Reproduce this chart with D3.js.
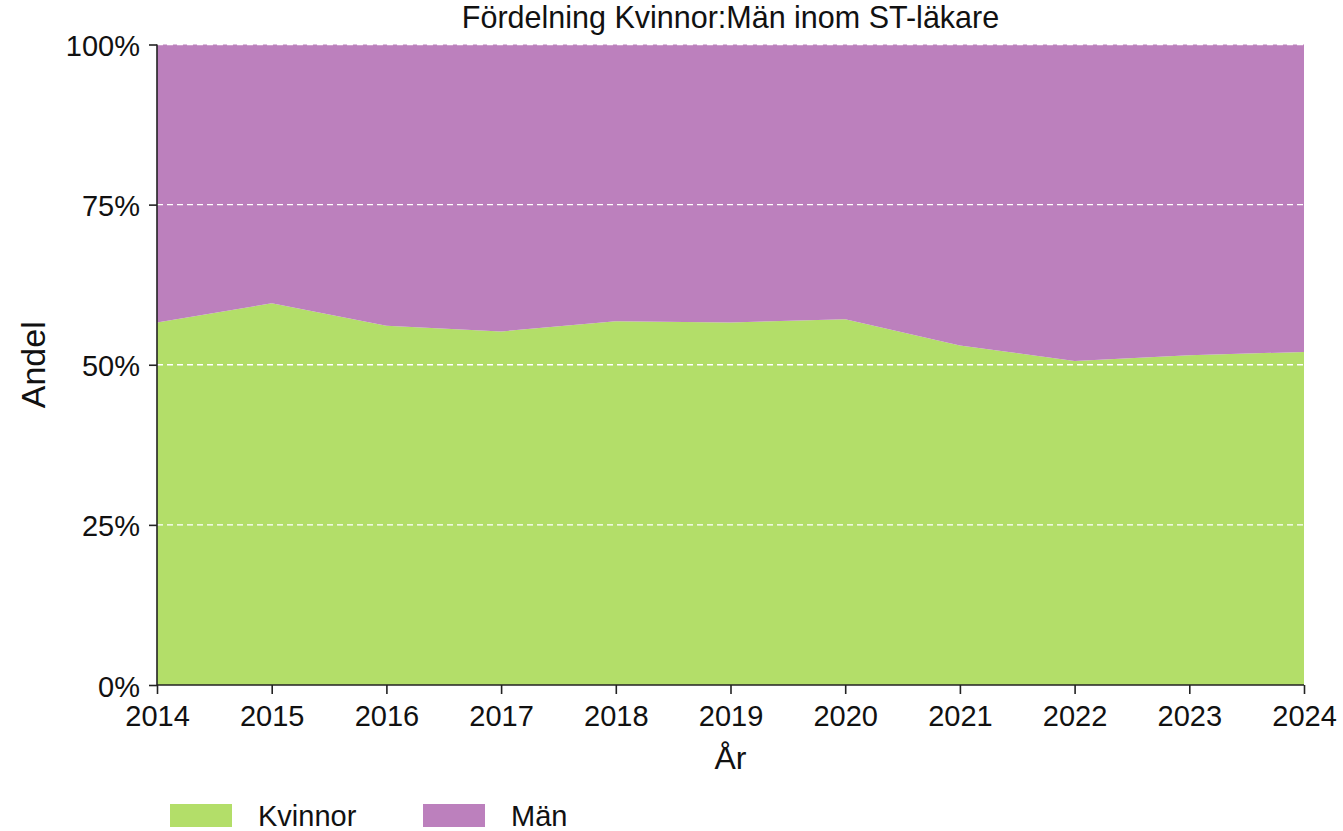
<!DOCTYPE html>
<html><head><meta charset="utf-8">
<script src="https://cdn.jsdelivr.net/npm/d3@7"></script>
<style>body{margin:0;background:#fff;font-family:"Liberation Sans",Arial,Helvetica,sans-serif;}</style>
</head><body>
<svg id="c" width="1343" height="831"></svg>
<script>
const years = [2014,2015,2016,2017,2018,2019,2020,2021,2022,2023,2024];
const kvinnor = [0.566,0.596,0.561,0.552,0.568,0.566,0.571,0.530,0.506,0.515,0.520];
const man = kvinnor.map(v => 1 - v);
const seriesNames = ["Kvinnor","Män"];
const seriesColors = ["#b3de69","#bc80bd"];
const yTicks = [0,0.25,0.5,0.75,1];
const title = "Fördelning Kvinnor:Män inom ST-läkare";

const svg = d3.select("#c");
const m = {l:157, r:1304, t:44.5, b:685};
const x = d3.scaleLinear().domain([2014,2024]).range([m.l,m.r]);
const y = d3.scaleLinear().domain([0,1]).range([m.b,m.t]);

const data = years.map((yr,i)=>({year:yr, Kvinnor:kvinnor[i], "Män":man[i]}));
const stack = d3.stack().keys(seriesNames)(data);
const area = d3.area().x(d=>x(d.data.year)).y0(d=>y(d[0])).y1(d=>y(d[1]));
svg.append("g").selectAll("path").data(stack).join("path")
  .attr("d", area).attr("fill",(d,i)=>seriesColors[i]);

// grid
svg.append("g").selectAll("line").data(yTicks.filter(t=>t>0)).join("line")
  .attr("x1",m.l).attr("x2",m.r).attr("y1",d=>y(d)).attr("y2",d=>y(d))
  .attr("stroke","#fff").attr("stroke-width",1.3).attr("stroke-dasharray","6,4");

const yAxis = d3.axisLeft(y).tickValues(yTicks).tickFormat(d=>Math.round(d*100)+"%").tickSize(8).tickPadding(9);
const gy = svg.append("g").attr("transform",`translate(${m.l},0)`).call(yAxis);
const xAxis = d3.axisBottom(x).tickValues(years).tickFormat(d3.format("d")).tickSize(9).tickPadding(11);
const gx = svg.append("g").attr("transform",`translate(0,${m.b})`).call(xAxis);
[gy,gx].forEach(g=>{
  g.select(".domain").attr("stroke","#222").attr("stroke-width",1.6);
  g.selectAll(".tick line").attr("stroke","#222").attr("stroke-width",1.6);
  g.selectAll("text").attr("font-size",29).attr("fill","#111").attr("font-family","Liberation Sans, Arial, sans-serif");
});
gy.selectAll("text").attr("dy","0.38em");
gy.select(".domain").attr("d",`M-0,${m.t}V${m.b}`);
gx.select(".domain").attr("d",`M${m.l},0H${m.r}`);

svg.append("text").attr("x",(m.l+m.r)/2).attr("y",28).attr("text-anchor","middle")
  .attr("font-size",30.5).attr("fill","#111").text(title);
svg.append("text").attr("transform",`translate(45,${(m.t+m.b)/2}) rotate(-90)`).attr("text-anchor","middle")
  .attr("font-size",34).attr("fill","#111").text("Andel");
svg.append("text").attr("x",(m.l+m.r)/2).attr("y",769).attr("text-anchor","middle")
  .attr("font-size",32).attr("fill","#111").text("År");

const leg = svg.append("g");
const lx = [170, 423];
seriesNames.forEach((n,i)=>{
  leg.append("rect").attr("x",lx[i]).attr("y",804).attr("width",62).attr("height",23).attr("fill",seriesColors[i]);
  leg.append("text").attr("x",lx[i]+88).attr("y",826).attr("font-size",29).attr("fill","#111").text(n);
});
</script>
</body></html>
